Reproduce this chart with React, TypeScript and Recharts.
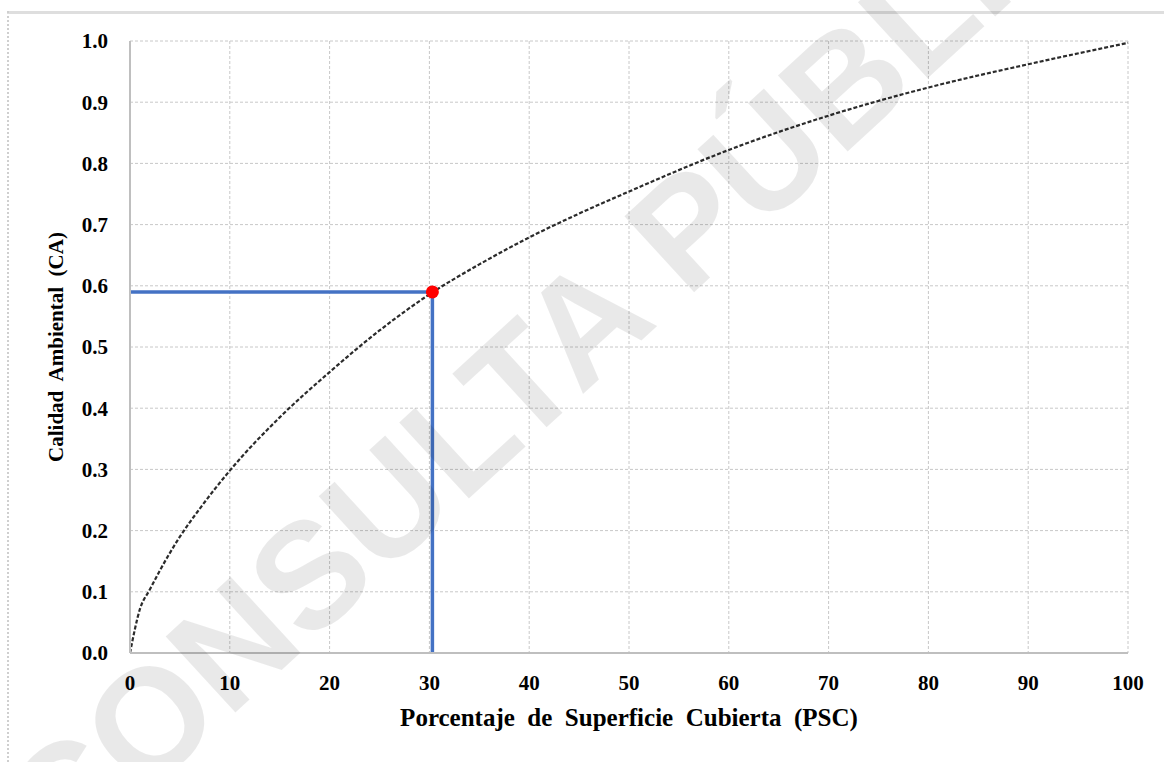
import React from "react";
import {
  ComposedChart,
  Line,
  Scatter,
  XAxis,
  YAxis,
  CartesianGrid,
  ReferenceLine,
} from "recharts";

// curve (PSC %, CA)
const pscValues = [0, 1, 2, 3, 5, 7, 10, 15, 20, 25, 30, 35, 40, 45, 50, 60, 70, 80, 90, 100];
const caValues = [0, 0.072, 0.104, 0.135, 0.19, 0.236, 0.298, 0.385, 0.459, 0.527, 0.586, 0.635, 0.679, 0.718, 0.754, 0.822, 0.878, 0.924, 0.962, 0.997];

const xTicks = [0, 10, 20, 30, 40, 50, 60, 70, 80, 90, 100];
const yTicks = [0, 0.1, 0.2, 0.3, 0.4, 0.5, 0.6, 0.7, 0.8, 0.9, 1.0];

const markerPoint = [{ psc: 30.3, ca: 0.59 }];

const xTitle = "Porcentaje\u00A0 de\u00A0 Superficie\u00A0 Cubierta\u00A0 (PSC)";
const yTitle = "Calidad\u00A0 Ambiental\u00A0 (CA)";
const watermark = "CONSULTA PÚBLICA";

const curve = pscValues.map((psc, i) => ({ psc, ca: caValues[i] }));

const serif = "Liberation Serif";
const gridColor = "#c8c8c8";
const axisColor = "#bfbfbf";
const blue = "#4472C4";

const W = 1164;
const H = 762;

export default function App() {
  const mk = markerPoint[0];
  return (
    <div
      style={{
        position: "fixed",
        left: 0,
        top: 0,
        width: W,
        height: H,
        background: "#fff",
        overflow: "hidden",
      }}
    >
      {/* frame of the cropped picture */}
      <div style={{ position: "absolute", left: 7, top: 11, right: 0, height: 0, borderTop: "3px solid #dedede" }} />
      <div style={{ position: "absolute", left: 7, top: 11, bottom: 0, width: 0, borderLeft: "2px dotted #cfcfcf" }} />

      <div style={{ position: "absolute", left: 0, top: 0 }}>
        <ComposedChart
          width={W}
          height={H}
          data={curve}
          margin={{ top: 41, right: 36, bottom: 29, left: 50 }}
        >
          <CartesianGrid stroke={gridColor} strokeDasharray="3 2" />
          <XAxis
            dataKey="psc"
            type="number"
            domain={[0, 100]}
            ticks={xTicks}
            interval={0}
            height={80}
            tickLine={false}
            tickMargin={16}
            axisLine={{ stroke: axisColor, strokeWidth: 2 }}
            tick={{ fill: "#000", fontFamily: serif, fontWeight: 700, fontSize: 21 }}
            label={{
              content: (p: any) => {
                const vb = p.viewBox;
                return (
                  <text
                    x={vb.x + vb.width / 2}
                    y={vb.y + vb.height - 7}
                    textAnchor="middle"
                    style={{ fontFamily: serif, fontWeight: 700, fontSize: 25 }}
                    fill="#000"
                  >
                    {xTitle}
                  </text>
                );
              },
            }}
          />
          <YAxis
            dataKey="ca"
            type="number"
            domain={[0, 1]}
            ticks={yTicks}
            interval={0}
            width={80}
            tickLine={false}
            tickMargin={16}
            axisLine={{ stroke: axisColor, strokeWidth: 2 }}
            tickFormatter={(v: number) => v.toFixed(1)}
            tick={{ fill: "#000", fontFamily: serif, fontWeight: 700, fontSize: 21 }}
            label={{
              content: (p: any) => {
                const vb = p.viewBox;
                const cx = vb.x + 6;
                const cy = vb.y + vb.height / 2;
                return (
                  <text
                    x={cx}
                    y={cy}
                    transform={`rotate(-90, ${cx}, ${cy})`}
                    textAnchor="middle"
                    dominantBaseline="central"
                    style={{ fontFamily: serif, fontWeight: 700, fontSize: 21 }}
                    fill="#000"
                  >
                    {yTitle}
                  </text>
                );
              },
            }}
          />
          <Line
            dataKey="ca"
            type="monotone"
            stroke="#2b2b2b"
            strokeWidth={2.2}
            strokeDasharray="4 2"
            dot={false}
            activeDot={false}
            isAnimationActive={false}
          />
          <ReferenceLine
            segment={[
              { x: 0, y: mk.ca },
              { x: mk.psc, y: mk.ca },
            ]}
            stroke={blue}
            strokeWidth={3.5}
          />
          <ReferenceLine
            segment={[
              { x: mk.psc, y: mk.ca },
              { x: mk.psc, y: 0 },
            ]}
            stroke={blue}
            strokeWidth={3.5}
          />
          <Scatter
            data={markerPoint}
            dataKey="ca"
            fill="#ff0000"
            shape={(p: any) => <circle cx={p.cx} cy={p.cy} r={6.5} fill="#ff0000" />}
            isAnimationActive={false}
          />
        </ComposedChart>
      </div>

      {/* watermark over the chart */}
      <svg
        width={W}
        height={H}
        style={{ position: "absolute", left: 0, top: 0, pointerEvents: "none" }}
      >
        <text
          x={27}
          y={833}
          transform="rotate(-42.5, 27, 833)"
          textAnchor="start"
          dominantBaseline="central"
          style={{ fontFamily: "Liberation Sans", fontWeight: 700, fontSize: 150 }}
          fill="#000"
          fillOpacity={0.085}
        >
          {watermark}
        </text>
      </svg>
    </div>
  );
}
